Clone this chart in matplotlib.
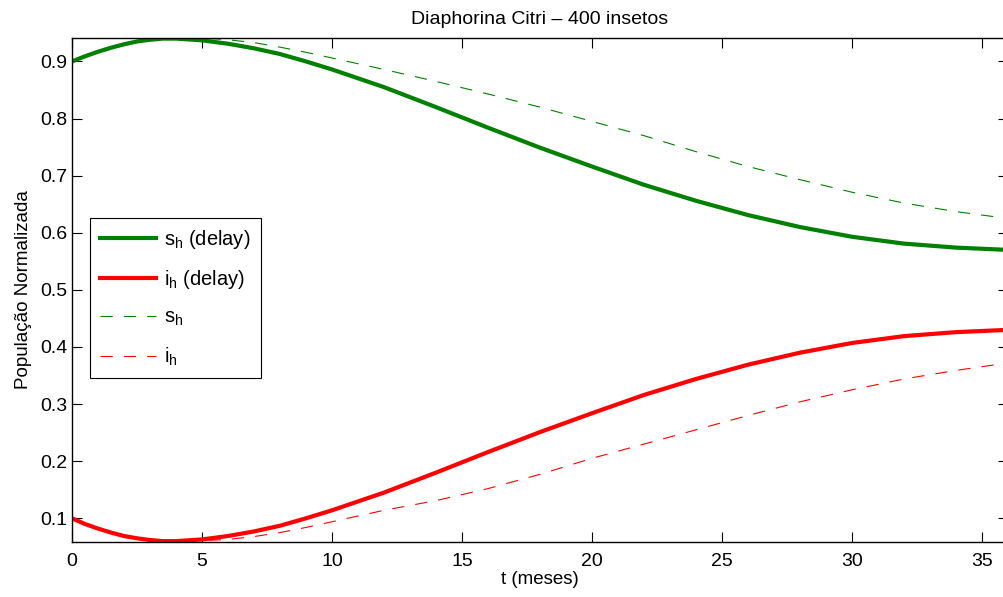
import numpy as np
import matplotlib
matplotlib.use("Agg")
import matplotlib.pyplot as plt

plt.rcParams['font.family'] = ['Liberation Sans', 'DejaVu Sans']
plt.rcParams['mathtext.fontset'] = 'custom'
plt.rcParams['mathtext.rm'] = 'Liberation Sans'

# time (months)
t = [0, 0.5, 1, 1.5, 2, 2.5, 3, 3.5, 4, 5, 6, 7, 8, 9, 10, 12, 14, 16, 18, 20, 22, 24, 26, 28, 30, 32, 34, 36]

sh_delay = [0.900, 0.909, 0.917, 0.924, 0.930, 0.935, 0.938, 0.940, 0.940, 0.937, 0.931, 0.923, 0.913,
            0.900, 0.886, 0.855, 0.820, 0.784, 0.749, 0.716, 0.684, 0.656, 0.631, 0.610, 0.593,
            0.581, 0.574, 0.570]
ih_delay = [0.100, 0.090, 0.082, 0.075, 0.069, 0.065, 0.062, 0.060, 0.060, 0.063, 0.069, 0.077, 0.087,
            0.100, 0.114, 0.145, 0.180, 0.216, 0.251, 0.284, 0.316, 0.344, 0.369, 0.390, 0.407,
            0.419, 0.426, 0.430]
sh = [0.900, 0.909, 0.917, 0.924, 0.930, 0.935, 0.938, 0.940, 0.941, 0.941, 0.938, 0.933, 0.925,
      0.916, 0.906, 0.886, 0.865, 0.843, 0.820, 0.795, 0.770, 0.742, 0.716, 0.693, 0.671,
      0.652, 0.637, 0.625]
ih = [0.100, 0.090, 0.082, 0.075, 0.069, 0.065, 0.062, 0.060, 0.060, 0.061, 0.063, 0.068, 0.075,
      0.084, 0.094, 0.114, 0.131, 0.152, 0.177, 0.205, 0.230, 0.255, 0.280, 0.304, 0.325,
      0.344, 0.359, 0.372]

green = '#008000'
red = '#ff0000'

fig = plt.figure(figsize=(10.04, 5.97), dpi=100)
ax = fig.add_axes([0.0717, 0.0926, 0.9323, 0.8437])

ax.plot(t, sh_delay, color=green, lw=3, label=r'$\mathregular{s_h}$ (delay)')
ax.plot(t, ih_delay, color=red, lw=3, label=r'$\mathregular{i_h}$ (delay)')
ax.plot(t, sh, color=green, lw=0.8, dashes=(11, 10), label=r'$\mathregular{s_h}$')
ax.plot(t, ih, color=red, lw=0.8, dashes=(11, 10), label=r'$\mathregular{i_h}$')

ax.set_xlim(0, 36)
ax.set_ylim(0.059, 0.941)
ax.set_xticks(np.arange(0, 36, 5))
ax.set_yticks(np.arange(0.1, 0.95, 0.1))
ax.set_yticklabels(['0.1', '0.2', '0.3', '0.4', '0.5', '0.6', '0.7', '0.8', '0.9'])
ax.tick_params(direction='in', top=True, right=True, length=7, width=0.8, labelsize=14)
ax.tick_params(axis='x', pad=8)
for s in ax.spines.values():
    s.set_linewidth(1.0)

ax.set_title('Diaphorina Citri \u2013 400 insetos', fontsize=14, pad=10)
ax.set_xlabel('t (meses)', fontsize=13.5, labelpad=1)
ax.set_ylabel('População Normalizada', fontsize=13.5, labelpad=6)

leg = ax.legend(loc='center left', bbox_to_anchor=(0.0192, 0.484), borderaxespad=0, fontsize=14.5,
                frameon=True, fancybox=False, edgecolor='black', framealpha=1,
                handlelength=2.8, labelspacing=0.85, borderpad=0.5, handletextpad=0.4)
leg.get_frame().set_linewidth(0.8)

fig.savefig('out.png', dpi=100)
